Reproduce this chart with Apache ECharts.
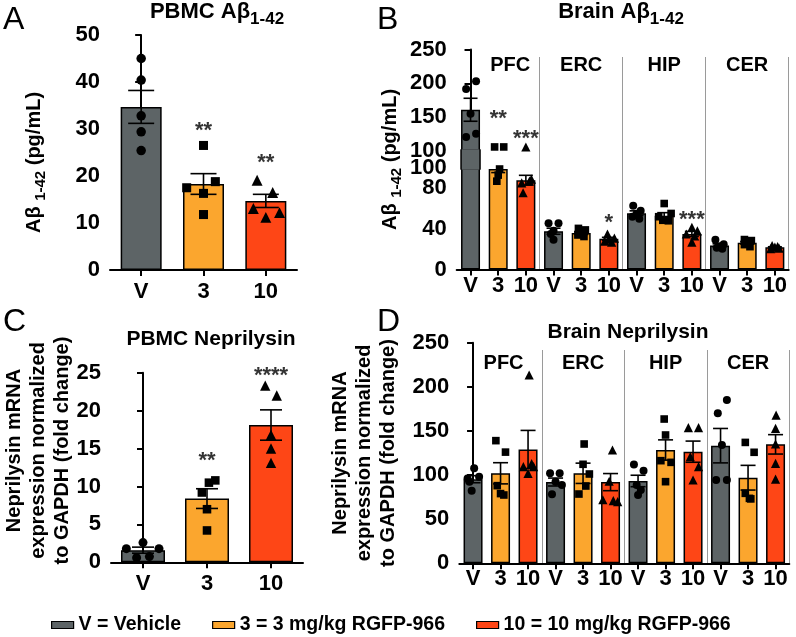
<!DOCTYPE html>
<html><head><meta charset="utf-8">
<script src="https://cdn.jsdelivr.net/npm/echarts@6/dist/echarts.min.js"></script>
<style>html,body{margin:0;padding:0;background:#fff}#c{width:796px;height:637px}</style>
</head><body><div id="c"></div>
<script>
// ---------- data ----------
const doseNames = ['V = Vehicle', '3 = 3 mg/kg RGFP-966', '10 = 10 mg/kg RGFP-966'];
const doseLabels = ['V', '3', '10'];
const regions = ['PFC', 'ERC', 'HIP', 'CER'];
const cats12 = regions.flatMap(() => doseLabels);

// A: PBMC Aβ1-42 (pg/mL)
const aMean = [34.7, 18.3, 14.7];
const aSem = [3.5, 2.2, 1.4];
const aPoints = [[45.0, 40.4, 32.8, 29.4, 25.4], [26.5, 18.8, 17.5, 16.3, 11.8], [19.1, 16.5, 13.1, 12.2, 11.2]];
const aJitter = [[0, 0, 0, 0, 0], [0, 0.19, -0.27, 0, 0], [-0.14, 0.11, -0.2, 0.22, 0]];
const aStars = [null, '**', '**'];
const aStarY = [null, 30.9, 24.0];

// B: Brain Aβ1-42 (pg/mL), PFC/ERC/HIP/CER x V/3/10
const bMean = [161, 99, 88, 37.7, 36, 30.2, 55.5, 53, 35, 23.7, 26.3, 21.8];
const bSem = [17, 3.5, 4.8, 3, 1.5, 1.5, 2.3, 3, 2.5, 1.6, 1.3, 0.6];
const bPoints = [
  [203, 191.7, 155, 125.6, 120.6],
  [106, 106, 99, 93, 87],
  [105.9, 89, 87, 85.4, 75.6],
  [45.5, 45.5, 38.3, 35, 29.2],
  [40.5, 39, 36, 34, 32.5],
  [35, 31, 30, 28, 27],
  [62.7, 58, 55, 52, 50],
  [65, 55.2, 52, 48.5, 48],
  [41.6, 38, 35, 33, 27],
  [29.2, 25, 23, 21.5, 20.5],
  [29.5, 28.5, 26.5, 24.5, 22.5],
  [23.5, 22.5, 22, 21, 20.5]];
const bJitter = [
  [0.2, -0.16, 0, 0.2, -0.16],
  [0.2, -0.13, 0.05, 0, -0.05],
  [0, 0.2, 0.13, -0.15, -0.1],
  [-0.18, 0.18, 0, -0.1, 0],
  [-0.1, 0.15, 0, -0.12, 0.1],
  [-0.05, 0.2, 0, -0.15, 0.1],
  [-0.12, 0.15, 0, -0.15, 0.1],
  [0, 0.25, -0.2, -0.05, 0.15],
  [0, 0.2, -0.2, 0.1, 0],
  [-0.15, 0.15, 0, -0.1, 0.1],
  [-0.1, 0.15, 0, -0.1, 0.1],
  [-0.1, 0.1, 0, 0.15, -0.15]];
const bStars = [null, '**', '***', null, null, '*', null, null, '***', null, null, null];
const bStarY = [null, 156, 126.6, null, null, 52, null, null, 54.7, null, null, null];
const bLowTicks = [0, 40, 80, 100];

// C: PBMC Neprilysin (fold change)
const cMean = [1.6, 8.4, 18.1];
const cSem = [0.4, 1.3, 2.0];
const cPoints = [[2.6, 1.8, 1.8, 0.75, 0.6], [10.8, 10.5, 9.2, 7.0, 4.2], [23.3, 22.0, 16.8, 15.0, 13.1]];
const cJitter = [[0, -0.26, 0.25, 0.1, -0.1], [0.13, 0.03, -0.08, 0, 0], [-0.09, 0.09, 0, 0, 0]];
const cStars = [null, '**', '****'];
const cStarY = [null, 14.2, 25.4];

// D: Brain Neprilysin (fold change)
const dMean = [95.3, 102, 129, 92.1, 102, 92, 93.3, 128.4, 126.5, 133.3, 97, 134.8];
const dSem = [4, 12, 21.6, 4.5, 11.5, 9.7, 6.5, 11.5, 12, 19.5, 14, 11];
const dPoints = [
  [107.6, 98, 96, 92.5, 82.3],
  [139, 126, 88, 79, 77.4],
  [213.4, 113, 109.5, 109.5, 102],
  [102, 102, 92.5, 88.7, 78.2],
  [135.2, 112.2, 101.2, 87.6, 78.5],
  [128.4, 93, 72, 71, 70],
  [112, 105, 88.7, 83, 77.4],
  [163.5, 145.4, 116.3, 114.4, 92.5],
  [153.7, 153.7, 120.8, 109.5, 94.4],
  [185, 170, 134, 94.4, 94.4],
  [137, 125.8, 79.3, 73.6, 73],
  [168, 153, 135.2, 113.3, 95.5]];
const dJitter = [
  [0.04, 0.22, -0.2, -0.13, -0.05],
  [-0.17, 0.18, -0.12, 0, 0.12],
  [0.04, 0.13, -0.17, 0.2, 0],
  [-0.2, 0.15, 0, 0.23, -0.13],
  [0.04, 0, 0.23, 0.1, -0.15],
  [0.07, -0.05, -0.28, 0.1, 0.26],
  [-0.15, 0.2, -0.05, 0.1, 0],
  [-0.05, 0, -0.17, 0.2, 0],
  [-0.17, 0.2, -0.1, 0.2, 0],
  [0.23, -0.1, 0.05, -0.16, 0.23],
  [-0.1, 0.22, -0.1, 0.05, 0.1],
  [0.02, 0, 0, 0, 0]];

// ---------- style ----------
const FONT = '"Liberation Sans", Arial, Helvetica, sans-serif';
const COLORS = ['#5d6466', '#fba62e', '#fe4616'];
const SYMS = ['circle', 'rect', 'triangle'];
const BW = 1.5;
const TICKFS = 22;
const axLine = {show: true, lineStyle: {color: '#000', width: 2}};
const axTick = {show: true, length: 6, lineStyle: {color: '#000', width: 2}};
const lbl = (m, fs) => ({color: '#000', fontSize: fs || TICKFS, fontWeight: 'bold', fontFamily: FONT, margin: m,
  showMinLabel: true, showMaxLabel: true, hideOverlap: false});
const mkRich = (main, sub, pad) => ({
  r: {fontSize: main, fontWeight: 'bold', fontFamily: FONT, color: '#000', lineHeight: main + 2, verticalAlign: 'top'},
  s: {fontSize: sub, fontWeight: 'bold', fontFamily: FONT, color: '#000', lineHeight: sub + 1, padding: [pad, 0, 0, 0], verticalAlign: 'top'}
});
const richName = mkRich(20, 15, 9);
const richTitle = mkRich(22, 17, 10);
const abName = '{r|Aβ }{s|1-42}{r| (pg/mL)}';
const nepName = 'Neprilysin mRNA\nexpression normalized\nto GAPDH (fold change)';

function catX(gi, data, margin) {
  return {type: 'category', gridIndex: gi, data, axisLine: axLine,
    axisTick: Object.assign({alignWithLabel: true}, axTick),
    axisLabel: Object.assign(lbl(margin), {interval: 0}), splitLine: {show: false}};
}
function valX(gi, n) { return {type: 'value', gridIndex: gi, min: -0.5, max: n - 0.5, show: false}; }
function hiddenCat(gi, data) { return {type: 'category', gridIndex: gi, data, show: false}; }
function divX(gi) {
  return {type: 'category', gridIndex: gi, data: cats12, axisLine: {show: false}, axisTick: {show: false},
    axisLabel: {show: false},
    splitLine: {show: true, interval: (i) => i > 0 && i % 3 === 0, lineStyle: {color: '#9a9a9a', width: 1}}};
}
function groupX(gi, margin, pfcPad) {
  return {type: 'category', gridIndex: gi, position: 'top', data: regions, axisLine: {show: false}, axisTick: {show: false},
    axisLabel: Object.assign(lbl(margin, 20), {inside: true, interval: 0,
      formatter: (v) => v === 'PFC' ? '{p|PFC}' : v,
      rich: {p: {fontSize: 20, fontWeight: 'bold', fontFamily: FONT, color: '#000', padding: [0, 0, 0, pfcPad]}}})};
}
function valY(gi, min, max, interval, extra) {
  return Object.assign({type: 'value', gridIndex: gi, min, max, interval, axisLine: axLine, axisTick: axTick,
    axisLabel: lbl(10), splitLine: {show: false}, nameMoveOverlap: false}, extra || {});
}

function bars(xi, yi, means, w) {
  return {type: 'bar', xAxisIndex: xi, yAxisIndex: yi, barWidth: w, silent: true, z: 2,
    data: means.map((m, i) => ({value: m, itemStyle: {color: COLORS[i % 3]}})),
    itemStyle: {borderColor: '#000', borderWidth: BW}};
}
function errs(xi, yi, means, sems, cap) {
  return {type: 'custom', xAxisIndex: xi, yAxisIndex: yi, z: 3, silent: true,
    data: means.map((m, i) => [i, m, sems[i]]),
    renderItem: (params, api) => {
      const i = api.value(0), m = api.value(1), s = api.value(2);
      const cs = params.coordSys;
      const top = cs.y, bot = cs.y + cs.height;
      const pm = api.coord([i, m]);
      if (pm[1] < top - 0.5 || pm[1] > bot + 0.5) return null;
      const hi = api.coord([i, m + s])[1], lo = api.coord([i, m - s])[1];
      const x = pm[0], h = cap / 2;
      const cl = (v) => Math.max(top, Math.min(bot, v));
      const st = {stroke: '#000', lineWidth: 1.6};
      const ch = [{type: 'line', shape: {x1: x, y1: cl(hi), x2: x, y2: cl(lo)}, style: st}];
      if (hi >= top) ch.push({type: 'line', shape: {x1: x - h, y1: hi, x2: x + h, y2: hi}, style: st});
      if (lo <= bot) ch.push({type: 'line', shape: {x1: x - h, y1: lo, x2: x + h, y2: lo}, style: st});
      return {type: 'group', children: ch};
    }};
}
function points(xi, yi, pts, jit, sz) {
  const data = [];
  pts.forEach((arr, i) => arr.forEach((v, k) => data.push({value: [i + jit[i][k], v], symbol: SYMS[i % 3],
    symbolSize: SYMS[i % 3] === 'triangle' ? sz * 1.15 : (SYMS[i % 3] === 'rect' ? sz * 0.95 : sz)})));
  return {type: 'scatter', xAxisIndex: xi, yAxisIndex: yi, data, itemStyle: {color: '#000', opacity: 1}, z: 4, silent: true};
}
function stars(xi, yi, labels, ys, keep) {
  const data = [];
  labels.forEach((t, i) => { if (t && keep(ys[i])) data.push({value: [i, ys[i]], name: t}); });
  return {type: 'scatter', xAxisIndex: xi, yAxisIndex: yi, clip: false, symbolSize: 1, silent: true, z: 7,
    itemStyle: {color: 'rgba(0,0,0,0)'},
    label: {show: true, position: 'inside', formatter: '{b}', offset: [0, 6], color: '#000', fontSize: 22, fontWeight: 'bold', fontFamily: FONT},
    data};
}

const txt = (sz, w, rich) => ({fontSize: sz, fontWeight: w, color: '#000', fontFamily: FONT, rich: rich || richTitle});
const gapRect = {left: 456.7, top: 149.3, width: 332, height: 20.4, outerBoundsMode: 'none'};

const option = {
  animation: false,
  textStyle: {fontFamily: FONT},
  title: [
    {text: 'A', left: 3, top: 4, padding: 0, textStyle: txt(32, 'normal')},
    {text: 'B', left: 377, top: 4, padding: 0, textStyle: txt(32, 'normal')},
    {text: 'C', left: 3, top: 306, padding: 0, textStyle: txt(32, 'normal')},
    {text: 'D', left: 377, top: 306, padding: 0, textStyle: txt(32, 'normal')},
    {text: '{r|PBMC Aβ}{s|1-42}', left: 217, top: 1, padding: 0, textAlign: 'center', textStyle: txt(22, 'bold')},
    {text: '{r|Brain Aβ}{s|1-42}', left: 621, top: 1, padding: 0, textAlign: 'center', textStyle: txt(22, 'bold')},
    {text: 'PBMC Neprilysin', left: 211, top: 329, padding: 0, textAlign: 'center', textStyle: txt(21, 'bold')},
    {text: 'Brain Neprilysin', left: 628, top: 322, padding: 0, textAlign: 'center', textStyle: txt(21, 'bold')}
  ],
  legend: {left: 46, top: 610, itemWidth: 22, itemHeight: 7, itemGap: 31, icon: 'rect', selectedMode: false,
    data: doseNames, textStyle: {fontSize: 19.5, fontWeight: 'bold', color: '#000', fontFamily: FONT},
    itemStyle: {borderColor: '#000', borderWidth: 1.2}},
  grid: [
    {left: 110, top: 35, width: 187, height: 235, outerBoundsMode: 'none'},     //0 A
    {left: 456.7, top: 49.6, width: 332, height: 101.4, outerBoundsMode: 'none'}, //1 B top
    {left: 456.7, top: 168, width: 332, height: 101.5, outerBoundsMode: 'none'},  //2 B bottom
    Object.assign({}, gapRect),                                                   //3 B gap (edges)
    {left: 456.7, top: 57, width: 332, height: 212.5, outerBoundsMode: 'none'},   //4 B dividers
    {left: 111, top: 372.7, width: 192, height: 189.6, outerBoundsMode: 'none'},  //5 C
    {left: 459.3, top: 342.7, width: 330, height: 220.6, outerBoundsMode: 'none'},//6 D
    {left: 459.3, top: 350, width: 330, height: 213.3, outerBoundsMode: 'none'},  //7 D dividers
    {left: 0, top: 0, width: 1, height: 1, show: false, outerBoundsMode: 'none'}, //8 legend host
    Object.assign({}, gapRect)                                                    //9 B gap (fill)
  ],
  xAxis: [
    catX(0, doseLabels, 11),      //0
    valX(0, 3),                   //1
    hiddenCat(1, cats12),         //2
    valX(1, 12),                  //3
    catX(2, cats12, 5),           //4
    valX(2, 12),                  //5
    hiddenCat(3, cats12),         //6
    divX(4),                      //7
    groupX(4, -2, 24),            //8
    catX(5, doseLabels, 11),      //9
    valX(5, 3),                   //10
    catX(6, cats12, 5),           //11
    valX(6, 12),                  //12
    divX(7),                      //13
    groupX(7, 3, 6),              //14
    hiddenCat(8, ['x']),          //15
    hiddenCat(9, cats12)          //16
  ],
  yAxis: [
    valY(0, 0, 50, 10, {name: abName, nameLocation: 'middle', nameRotate: 90, nameGap: 64,
      nameTextStyle: {rich: richName, padding: [0, 20, 0, 0]}}),                                   //0
    valY(1, 100, 250, 50),                                                                          //1
    valY(2, 0, 100, 20, {axisTick: Object.assign({customValues: bLowTicks}, axTick),
      axisLabel: Object.assign(lbl(10), {customValues: bLowTicks.slice(0, 3)})}),                   //2
    {type: 'value', gridIndex: 3, min: 100, max: 101, axisLine: {show: false}, axisTick: {show: false},
      axisLabel: {show: false}, splitLine: {show: false}, nameMoveOverlap: false,
      name: abName, nameLocation: 'middle', nameRotate: 90, nameGap: 54, nameTextStyle: {rich: richName}}, //3
    {type: 'value', gridIndex: 4, show: false},                                                     //4
    valY(5, 0, 25, 5, {name: nepName, nameLocation: 'middle', nameRotate: 90, nameGap: 37,
      nameTextStyle: {fontSize: 20, fontWeight: 'bold', color: '#000', fontFamily: FONT, lineHeight: 24, padding: [0, 0, 0, 34]}}), //5
    valY(6, 0, 250, 50, {name: nepName, nameLocation: 'middle', nameRotate: 90, nameGap: 59,
      nameTextStyle: {fontSize: 20, fontWeight: 'bold', color: '#000', fontFamily: FONT, lineHeight: 24}}), //6
    {type: 'value', gridIndex: 7, show: false},                                                     //7
    {type: 'value', gridIndex: 8, show: false},                                                     //8
    {type: 'value', gridIndex: 9, min: 100, max: 101, show: false},                                 //9
    // second label track for the top tick ("100") of the lower segment
    {type: 'value', gridIndex: 2, position: 'left', offset: 0, min: 0, max: 100,
      axisLine: {show: false}, axisTick: {show: false}, splitLine: {show: false},
      axisLabel: Object.assign(lbl(10), {customValues: bLowTicks.slice(3)})}                         //10
  ],
  series: [
    // legend hosts
    ...doseNames.map((n, k) => ({type: 'bar', name: n, xAxisIndex: 15, yAxisIndex: 8, data: [],
      itemStyle: {color: COLORS[k], borderColor: '#000', borderWidth: 1.2}})),
    // A
    bars(0, 0, aMean, 41),
    errs(0, 0, aMean, aSem, 26),
    points(1, 0, aPoints, aJitter, 9.5),
    stars(1, 0, aStars, aStarY, () => true),
    // B top / bottom
    bars(2, 1, bMean, 19),
    bars(4, 2, bMean, 19),
    errs(2, 1, bMean, bSem, 14),
    errs(4, 2, bMean, bSem, 14),
    points(3, 1, bPoints, bJitter, 8),
    points(5, 2, bPoints, bJitter, 8),
    stars(3, 1, bStars, bStarY, (y) => y >= 100),
    stars(5, 2, bStars, bStarY, (y) => y < 100),
    // B gap: bars continue across the broken axis
    {type: 'bar', xAxisIndex: 6, yAxisIndex: 3, barWidth: 19 + BW, silent: true, z: 5,
      data: bMean.slice(), itemStyle: {color: '#000'}},
    {type: 'bar', xAxisIndex: 16, yAxisIndex: 9, barWidth: 19 - BW, silent: true, z: 6,
      data: bMean.map((m, i) => ({value: m, itemStyle: {color: COLORS[i % 3]}}))},
    // C
    bars(9, 5, cMean, 44),
    errs(9, 5, cMean, cSem, 22),
    points(10, 5, cPoints, cJitter, 9),
    stars(10, 5, cStars, cStarY, () => true),
    // D
    bars(11, 6, dMean, 19),
    errs(11, 6, dMean, dSem, 15),
    points(12, 6, dPoints, dJitter, 8)
  ]
};
const chart = echarts.init(document.getElementById('c'), null, {renderer: 'canvas'});
chart.setOption(option);
</script>
</body></html>
